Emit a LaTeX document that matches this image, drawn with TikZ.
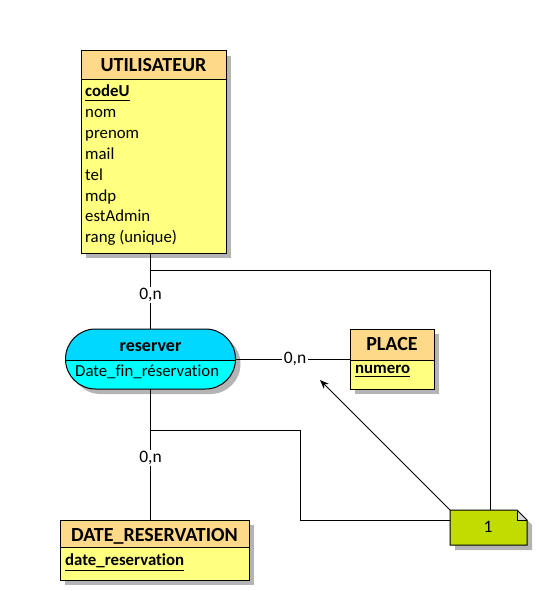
\documentclass[tikz,border=0pt]{standalone}
\usepackage{fontspec}
\setmainfont{Carlito}[Ligatures=NoCommon]
\usetikzlibrary{arrows.meta,calc}
\definecolor{enthead}{HTML}{FFD98A}
\definecolor{entbody}{HTML}{FFFF80}
\definecolor{relhead}{HTML}{00D8FF}
\definecolor{relbody}{HTML}{00FFFF}
\definecolor{notecol}{HTML}{C0DC00}
\definecolor{foldcol}{HTML}{D8D8D8}
\definecolor{shadowcol}{HTML}{B4B4B4}
\begin{document}
\begin{tikzpicture}[x=1pt,y=-1pt,
  line/.style={draw=black,line width=1pt},
  box/.style={inner sep=0pt,outer sep=0pt},
  attr/.style={anchor=base west,inner sep=0pt,font=\fontsize{16.8}{20}\selectfont},
  ttl/.style={anchor=base,inner sep=0pt,font=\fontsize{20}{24}\selectfont\bfseries},
  card/.style={fill=white,inner sep=1.5pt,font=\fontsize{17.5}{20}\selectfont},
]
\useasboundingbox (0,0) rectangle (538,591);

% ---------- UTILISATEUR ----------
\fill[shadowcol] (86,56) rectangle (231,258);
\fill[entbody] (81,51) rectangle (226,253);
\fill[enthead] (81,51) rectangle (226,80);
\draw[line] (81,80) -- (226,80);
\node[box,draw,line width=1pt,minimum width=145pt,minimum height=202pt] (util) at (153.5,152) {};
\node[ttl] (utilT) at (153.5,72) {UTILISATEUR};
\node[attr,font=\fontsize{16.8}{20}\selectfont\bfseries] (u1) at (85,97) {codeU};
\draw[line] ([yshift=-3.5pt]u1.base west) -- ([yshift=-3.5pt]u1.base east);
\node[attr] (u2) at (85,117.8) {nom};
\node[attr] (u3) at (85,138.6) {prenom};
\node[attr] (u4) at (85,159.4) {mail};
\node[attr] (u5) at (85,180.2) {tel};
\node[attr] (u6) at (85,201) {mdp};
\node[attr] (u7) at (85,221.8) {estAdmin};
\node[attr] (u8) at (85,242.6) {rang (unique)};

% ---------- reserver ----------
\fill[shadowcol,rounded corners=30pt] (70.5,334) rectangle (240.5,394);
\begin{scope}
\clip[rounded corners=30pt] (65.5,329) rectangle (235.5,389);
\fill[relbody] (65.5,329) rectangle (235.5,389);
\fill[relhead] (65.5,329) rectangle (235.5,360);
\draw[line] (60,360) -- (240,360);
\end{scope}
\draw[line,rounded corners=30pt] (65.5,329) rectangle (235.5,389);
\node[box,minimum width=170pt,minimum height=60pt] (res) at (150.5,359) {};
\node[ttl,font=\fontsize{18}{21}\selectfont\bfseries] (resT) at (150.5,351) {reserver};
\node[attr] (r1) at (75,376) {Date\_fin\_réservation};

% ---------- PLACE ----------
\fill[shadowcol] (355,334) rectangle (439,394);
\fill[entbody] (350,329) rectangle (434,389);
\fill[enthead] (350,329) rectangle (434,360);
\draw[line] (350,360) -- (434,360);
\node[box,draw,line width=1pt,minimum width=84pt,minimum height=60pt] (place) at (392,359) {};
\node[ttl] (placeT) at (392,350) {PLACE};
\node[attr,font=\fontsize{16.8}{20}\selectfont\bfseries] (p1) at (355,373) {numero};
\draw[line] ([yshift=-3.5pt]p1.base west) -- ([yshift=-3.5pt]p1.base east);

% ---------- DATE_RESERVATION ----------
\fill[shadowcol] (65,525) rectangle (254,585);
\fill[entbody] (60,520) rectangle (249,580);
\fill[enthead] (60,520) rectangle (249,547);
\draw[line] (60,547) -- (249,547);
\node[box,draw,line width=1pt,minimum width=189pt,minimum height=60pt] (date) at (154.5,550) {};
\node[ttl] (dateT) at (154.5,541) {DATE\_RESERVATION};
\node[attr,font=\fontsize{16.8}{20}\selectfont\bfseries] (d1) at (65,565) {date\_reservation};
\draw[line] ([yshift=-5pt]d1.base west) -- ([yshift=-5pt]d1.base east);

% ---------- note ----------
\fill[shadowcol] (455,515) -- (522,515) -- (532,525) -- (532,550) -- (455,550) -- cycle;
\fill[notecol] (450,510) -- (517,510) -- (527,520) -- (527,545) -- (450,545) -- cycle;
\fill[foldcol] (517,510) -- (527,520) -- (517,520) -- cycle;
\draw[line] (450,510) -- (517,510) -- (527,520) -- (527,545) -- (450,545) -- cycle;
\draw[line] (517,510) -- (517,520) -- (527,520);
\node[box,minimum width=77pt,minimum height=35pt] (note) at (488.5,527.5) {};
\node[attr,anchor=base,font=\fontsize{17.5}{20}\selectfont] (noteT) at (488,532) {1};

% ---------- connectors ----------
\coordinate (j1) at (150.5,270);
\coordinate (j2) at (150.5,430);
\coordinate (bend) at (300,430);
\coordinate (tip) at (320,380);
\draw[line] (res.north) -- (res.north |- util.south);
\node[card] (c1) at (150.5,295) {0,n};
\draw[line] (res.east) -- (place.west);
\node[card] (c2) at (295,359) {0,n};
\draw[line] (res.south) -- (res.south |- date.north);
\node[card] (c3) at (150.5,458) {0,n};
\draw[line] ([xshift=1.5pt]note.north) |- (j1);
\draw[line] ([yshift=7.5pt]note.west) -| (bend) -- (j2);
\draw[line,-{Stealth[length=9pt,width=7pt]}] (note.north west) -- (tip);
\end{tikzpicture}
\end{document}
